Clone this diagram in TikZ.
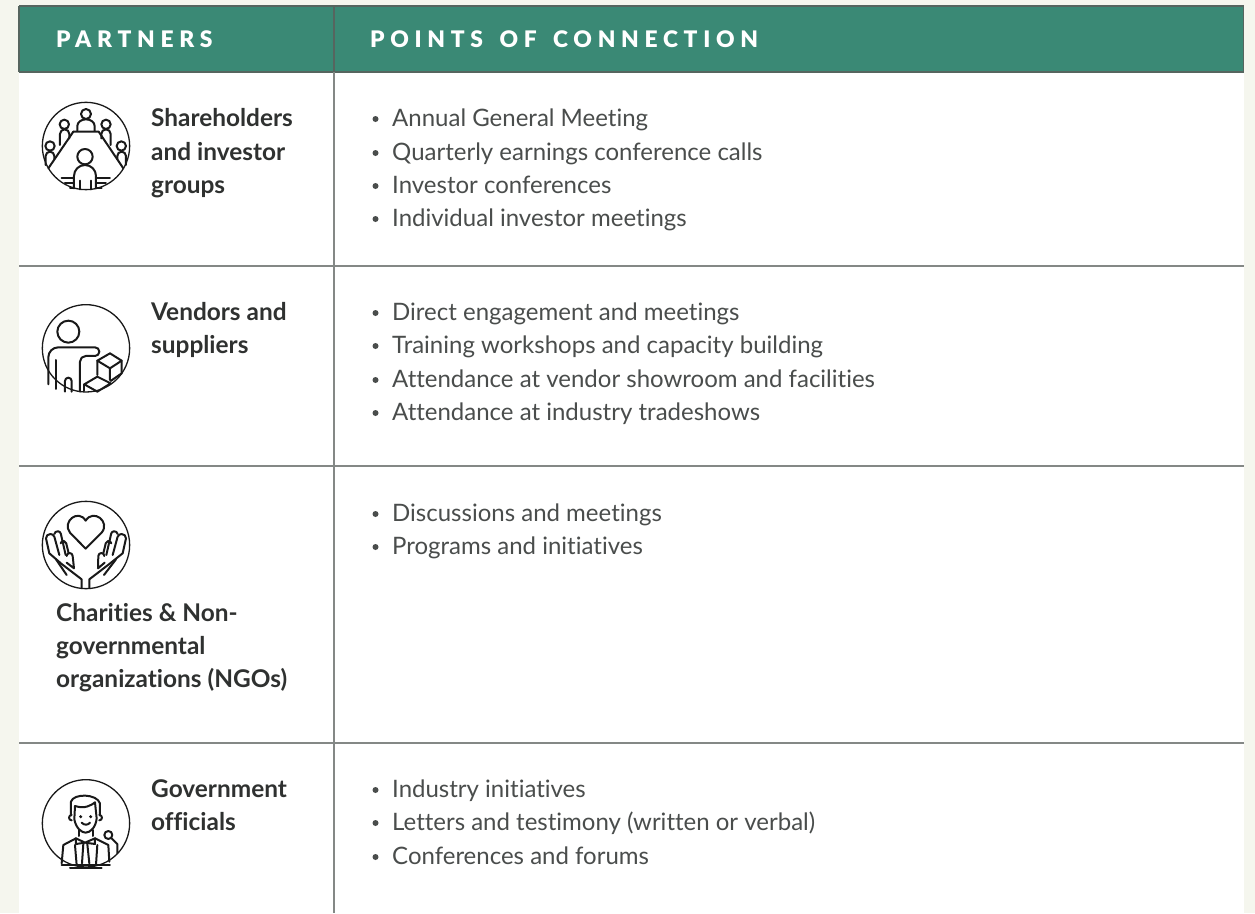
\documentclass[tikz,border=0pt]{standalone}
\usepackage{fontspec}
\setmainfont[Ligatures={CommonOff,TeX}]{Lato}
\newfontfamily\headfont[LetterSpace=25,WordSpace=1.5]{Lato Black}
\definecolor{pagebg}{HTML}{F5F6EE}
\definecolor{headgreen}{HTML}{3A8975}
\definecolor{rulegrey}{HTML}{848886}
\definecolor{headline}{HTML}{56655F}
\definecolor{bodygrey}{HTML}{4A4D4C}
\definecolor{boldgrey}{HTML}{2F3130}
\tikzset{
  rowrule/.style={draw=rulegrey,line width=1.2pt},
  headrule/.style={draw=headline,line width=1.2pt},
  headtext/.style={anchor=base west,text=white,inner sep=0pt,font=\fontsize{22.8}{26}\selectfont\headfont},
  partner/.style={anchor=base west,text=boldgrey,font=\fontsize{24.4}{33.4}\selectfont\bfseries,align=left,inner sep=0pt},
  bullets/.style={anchor=base west,text=bodygrey,font=\fontsize{24}{33.4}\selectfont,inner sep=0pt},
  dotb/.style={fill=bodygrey,draw=none},
  icon/.style={line width=2pt,black!90,line cap=round,line join=round},
  ring/.style={line width=1.3pt,black!90},
}
\newcommand{\bul}[3]{\fill[dotb] (375.5,#1-7) circle (3);\node[bullets] (#3) at (392,#1) {#2};}
\begin{document}
\begin{tikzpicture}[x=1pt,y=-1pt]
\useasboundingbox (0,0) rectangle (1255,913);
\fill[pagebg] (0,0) rectangle (1255,913);
\fill[white] (19,72) rectangle (1243.5,913);
\fill[headgreen] (19,6) rectangle (1243.5,72);
\draw[headrule] (19,6) -- (1243.5,6) -- (1243.5,72);
\draw[headrule] (19,6) -- (19,72);
\draw[headrule] (19,72) -- (1243.5,72);
\draw[headrule] (334,6) -- (334,72);
\draw[rowrule] (334,72) -- (334,913);
\draw[rowrule] (19,266) -- (1243.5,266);
\draw[rowrule] (19,466) -- (1243.5,466);
\draw[rowrule] (19,743) -- (1243.5,743);
\node[headtext] (h1) at (56,47) {PARTNERS};
\node[headtext] (h2) at (370,47) {POINTS OF CONNECTION};
% row 1
\node[partner] (p1a) at (151,126) {Shareholders};
\node[partner] (p1b) at (151,160) {and investor};
\node[partner] (p1c) at (151,193) {groups};
\bul{126}{Annual General Meeting}{a1}
\bul{160}{Quarterly earnings conference calls}{a2}
\bul{193}{Investor conferences}{a3}
\bul{226}{Individual investor meetings}{a4}
% row 2
\node[partner] (p2a) at (151,320) {Vendors and};
\node[partner] (p2b) at (151,353) {suppliers};
\bul{320}{Direct engagement and meetings}{b1}
\bul{353}{Training workshops and capacity building}{b2}
\bul{387}{Attendance at vendor showroom and facilities}{b3}
\bul{420}{Attendance at industry tradeshows}{b4}
% row 3
\node[partner] (p3a) at (56,621) {Charities \& Non-};
\node[partner] (p3b) at (56,654) {governmental};
\node[partner] (p3c) at (56,687) {organizations (NGOs)};
\bul{521}{Discussions and meetings}{c1}
\bul{554}{Programs and initiatives}{c2}
% row 4
\node[partner] (p4a) at (151,797) {Government};
\node[partner] (p4b) at (151,830) {officials};
\bul{797}{Industry initiatives}{d1}
\bul{830}{Letters and testimony (written or verbal)}{d2}
\bul{864}{Conferences and forums}{d3}
% icon 1
\begin{scope}[shift={(20pt,-90pt)},x=.3333pt,y=-.3333pt,icon]
\draw[ring] (198,168) circle (131);
\draw (198,72) circle (15);
\draw (172,122) -- (172,108) arc (180:360:26 and 20) -- (224,122);
\draw (160,125) -- (236,125) -- (310,235);
\draw (160,125) -- (85,235);
\draw (133,103) circle (14);
\draw (120,165) -- (120,132) arc (180:360:14) -- (148,145);
\draw (258,103) circle (14);
\draw (272,165) -- (272,132) arc (0:-180:14) -- (244,145);
\draw (90,168) circle (14);
\draw (77,225) -- (77,198) arc (180:360:13) -- (103,208);
\draw (304,168) circle (14);
\draw (318,225) -- (318,198) arc (0:-180:13) -- (292,208);
\draw (195,200) circle (23);
\draw (162,295) -- (162,258) arc (180:360:33) -- (228,295);
\draw (180,272) -- (180,298);
\draw (212,272) -- (212,298);
\draw (125,265) -- (160,265) (135,280) -- (160,280) (150,293) -- (160,293);
\draw (230,265) -- (270,265) (230,280) -- (258,280) (230,293) -- (245,293);
\end{scope}
% icon 2
\begin{scope}[shift={(20pt,-295pt)},x=.3333pt,y=-.3333pt,icon]
\draw[ring] (198,160) circle (131);
\draw (145,110) circle (33);
\draw (85,268) -- (85,187) arc (180:270:30) -- (225,157) arc (-90:90:13) -- (197,183) arc (-90:-180:17) -- (180,290);
\draw (108,195) -- (108,282);
\draw (135,290) -- (135,258) arc (180:360:10) -- (155,290);
\draw (232,197) -- (270,175) -- (305,197) -- (270,220) -- cycle;
\draw (232,197) -- (232,240) (270,220) -- (270,255) (305,197) -- (305,235) -- (272,258);
\draw (193,268) -- (232,245) -- (272,265) -- (232,290) -- cycle;
\draw (193,268) -- (193,288);
\end{scope}
% icon 3
\begin{scope}[shift={(20pt,-490pt)},x=.3333pt,y=-.3333pt,icon]
\draw[ring] (198,165) circle (131);
\draw (197,176) -- (150,128) .. controls (125,95) and (175,55) .. (197,92) .. controls (220,55) and (272,95) .. (245,128) -- cycle;
% left hand
\draw (185,294) -- (185,268) -- (125,222) -- (88,190) -- (78,145) arc (180:340:13) -- (118,195);
\draw (103,132) arc (190:350:10) -- (137,195);
\draw (122,160) arc (190:350:8.5) -- (146,190);
\draw (140,198) arc (180:360:9) -- (162,235) -- (140,218);
\draw (108,208) -- (140,255);
% right hand
\draw (208,294) -- (208,268) -- (268,222) -- (308,190) -- (318,145) arc (0:-160:13) -- (278,195);
\draw (293,132) arc (-10:-170:10) -- (259,195);
\draw (274,160) arc (-10:-170:8.5) -- (250,190);
\draw (253,198) arc (0:-180:9) -- (234,235) -- (254,218);
\draw (288,208) -- (252,255);
\end{scope}
% icon 4
\begin{scope}[shift={(20pt,-770pt)},x=.3333pt,y=-.3333pt,icon]
\draw[ring] (198,160) circle (131);
\draw (165,108) .. controls (195,118) and (215,105) .. (225,97);
\draw (153,135) -- (153,95) .. controls (160,70) and (230,70) .. (240,100) -- (240,135);
\draw (165,108) -- (163,148) .. controls (168,175) and (185,188) .. (197,188) .. controls (212,188) and (228,170) .. (230,145) -- (225,97);
\draw (155,135) arc (-90:-270:8);
\draw (238,135) arc (-90:90:8);
\fill (182,140) circle (5) (212,140) circle (5);
\draw (185,158) .. controls (192,166) and (204,166) .. (210,158);
\draw (178,180) -- (178,198) (218,180) -- (218,198);
\draw (168,205) -- (195,218) -- (225,205) -- (225,222) -- (195,218) -- (168,222) -- cycle;
\draw (168,205) -- (130,225) -- (125,280);
\draw (225,205) -- (265,225) -- (268,275);
\draw (190,222) -- (186,280) (202,222) -- (208,280) (165,225) -- (170,285) (232,225) -- (228,285);
\draw (125,285) -- (270,285);
\draw (150,293) -- (245,293);
\draw (265,195) circle (12);
\draw (275,205) -- (292,222) -- (292,250);
\end{scope}
\end{tikzpicture}
\end{document}
